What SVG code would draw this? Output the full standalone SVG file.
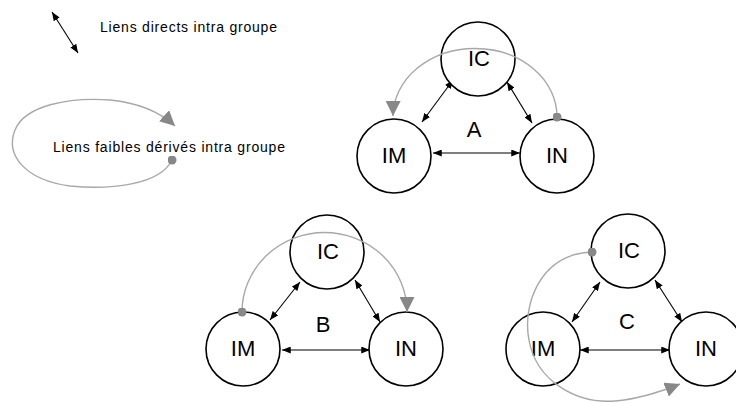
<svg xmlns="http://www.w3.org/2000/svg" width="736" height="403" viewBox="0 0 736 403">
<style>
.node{fill:#fff;stroke:#000;stroke-width:1.6}
.lbl{font-family:"Liberation Sans",Arial,sans-serif;font-size:22px;fill:#000;text-anchor:middle}
.leg{font-family:"Liberation Sans",Arial,sans-serif;font-size:14px;fill:#000}
.dir{fill:none;stroke:#000;stroke-width:1.1;marker-start:url(#ab);marker-end:url(#ab)}
.weak{fill:none;stroke:#a8a8a8;stroke-width:1.4;marker-start:url(#dot);marker-end:url(#ag)}
</style>
<defs>
<marker id="ab" viewBox="0 0 10 8" refX="10" refY="4" markerWidth="9" markerHeight="7" markerUnits="userSpaceOnUse" orient="auto-start-reverse"><path d="M0,0 L10,4 L0,8 Z" fill="#000"/></marker>
<marker id="ag" viewBox="0 0 14 14" refX="14" refY="7" markerWidth="15" markerHeight="15" markerUnits="userSpaceOnUse" orient="auto"><path d="M0,0 L14,7 L0,14 Z" fill="#888"/></marker>
<marker id="dot" viewBox="0 0 10 10" refX="5" refY="5" markerWidth="9" markerHeight="9" markerUnits="userSpaceOnUse"><circle cx="5" cy="5" r="5" fill="#888"/></marker>
</defs>
<g id="legend">
<line class="dir" x1="52" y1="12" x2="78" y2="53"/>
<text class="leg" x="100" y="32" textLength="177" lengthAdjust="spacing">Liens directs intra groupe</text>
<path class="weak" d="M172,160 C160,185 110,190 70,186 C25,180 5,155 15,130 C25,105 70,97 110,100 C140,103 160,112 175,126"/>
<text class="leg" x="53" y="152" textLength="232" lengthAdjust="spacing">Liens faibles dérivés intra groupe</text>
</g>
<g id="connectors">
<line class="dir" x1="453" y1="80" x2="422" y2="122"/>
<line class="dir" x1="507" y1="82" x2="532" y2="123"/>
<line class="dir" x1="433" y1="153" x2="520" y2="153"/>
<line class="dir" x1="300" y1="282" x2="270" y2="320"/>
<line class="dir" x1="355" y1="280" x2="380" y2="322"/>
<line class="dir" x1="282" y1="350" x2="370" y2="350"/>
<line class="dir" x1="600" y1="282" x2="572" y2="322"/>
<line class="dir" x1="655" y1="280" x2="682" y2="322"/>
<line class="dir" x1="580" y1="350" x2="670" y2="350"/>
</g>
<g id="A-IC"><circle class="node" cx="478" cy="59" r="37"/><text class="lbl" x="479" y="66">IC</text></g>
<g id="A-IM"><circle class="node" cx="394" cy="156" r="37"/><text class="lbl" x="394" y="163">IM</text></g>
<g id="A-IN"><circle class="node" cx="557" cy="156" r="37"/><text class="lbl" x="557" y="163">IN</text></g>
<g id="B-IC"><circle class="node" cx="327" cy="252" r="37"/><text class="lbl" x="328" y="259">IC</text></g>
<g id="B-IM"><circle class="node" cx="243" cy="349" r="37"/><text class="lbl" x="243" y="356">IM</text></g>
<g id="B-IN"><circle class="node" cx="406" cy="349" r="37"/><text class="lbl" x="406" y="356">IN</text></g>
<g id="C-IC"><circle class="node" cx="628" cy="251" r="37"/><text class="lbl" x="629" y="258">IC</text></g>
<g id="C-IM"><circle class="node" cx="543" cy="349" r="37"/><text class="lbl" x="543" y="356">IM</text></g>
<g id="C-IN"><circle class="node" cx="706" cy="349" r="37"/><text class="lbl" x="706" y="356">IN</text></g>
<g id="weak-links">
<path class="weak" d="M557,117 A82,68 0 0 0 393,116"/>
<path class="weak" d="M242,312 A82,79 0 0 1 407,312"/>
<path class="weak" d="M592,252 C540,254 522,305 529,340 C536,380 575,404 615,401 C640,399 660,392 680,384"/>
</g>
<g id="group-labels">
<text class="lbl" x="474" y="137">A</text>
<text class="lbl" x="323" y="332">B</text>
<text class="lbl" x="627" y="329">C</text>
</g>
</svg>
